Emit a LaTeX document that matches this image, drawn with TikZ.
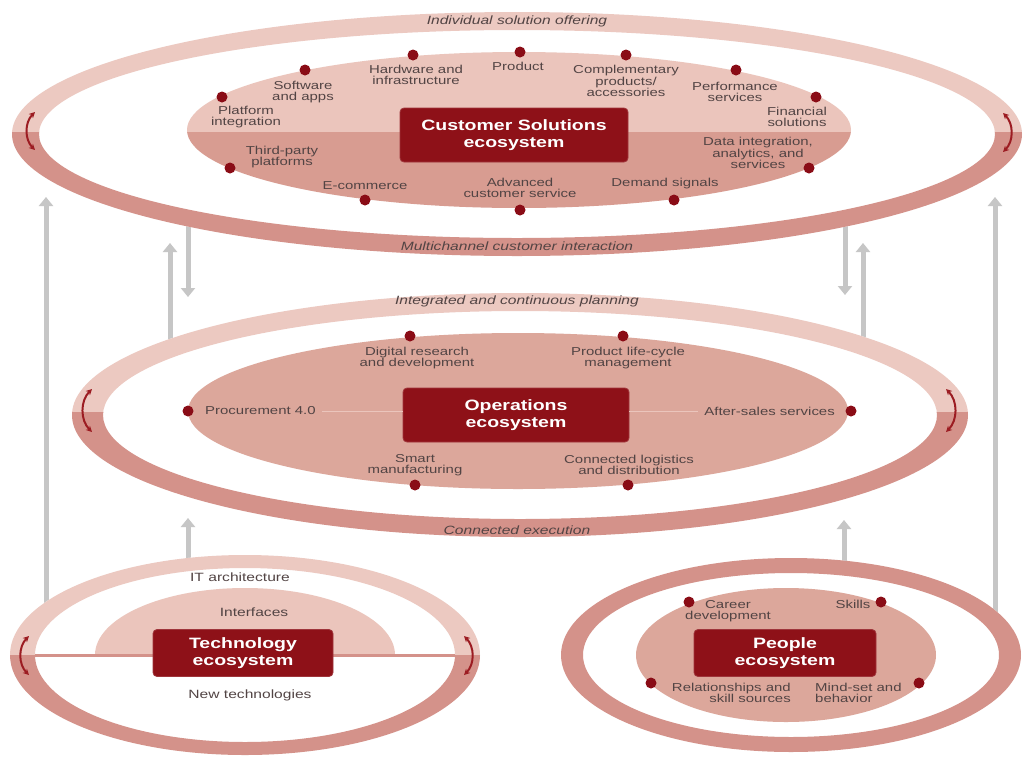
\documentclass[tikz,border=0pt]{standalone}
\usepackage{fontspec}
\setmainfont{Liberation Sans}[FakeStretch=1.3]
\usetikzlibrary{arrows.meta}
\definecolor{ringlight}{HTML}{ECC9C1}
\definecolor{ringdark}{HTML}{D4928A}
\definecolor{inlight}{HTML}{EBC5BC}
\definecolor{indark}{HTML}{D89C91}
\definecolor{inmid}{HTML}{DCA79B}
\definecolor{boxred}{HTML}{8E1118}
\definecolor{dotred}{HTML}{8A0C16}
\definecolor{txtc}{HTML}{524444}
\definecolor{arrgray}{HTML}{C6C6C6}
\definecolor{cycred}{HTML}{9C1C22}
\newcommand{\ecoring}[7]{%
  \fill[white] (#1,#2) ellipse [x radius=#3pt, y radius=#4pt];
  \begin{scope}
    \clip (#1-#3-5,#2-#4-5) rectangle (#1+#3+5,#7);
    \fill[ringlight,even odd rule] (#1,#2) ellipse [x radius=#3pt, y radius=#4pt]
      (#1,#2) ellipse [x radius=#5pt, y radius=#6pt];
  \end{scope}
  \begin{scope}
    \clip (#1-#3-5,#7) rectangle (#1+#3+5,#2+#4+5);
    \fill[ringdark,even odd rule] (#1,#2) ellipse [x radius=#3pt, y radius=#4pt]
      (#1,#2) ellipse [x radius=#5pt, y radius=#6pt];
  \end{scope}}
\begin{document}
\begin{tikzpicture}[x=1pt,y=-1pt,
  lbl/.style={font=\fontsize{11.5}{11.5}\selectfont, text=txtc, align=center, inner sep=0pt},
  ringlbl/.style={font=\fontsize{12}{12}\selectfont\itshape, text=txtc, inner sep=0pt},
  techlbl/.style={font=\fontsize{12}{12}\selectfont, text=txtc, inner sep=0pt},
  ecobox/.style={rounded corners=4pt, fill=boxred, draw=boxred!85!white, line width=0.8pt, text=white,
     font=\fontsize{15}{16.5}\selectfont\bfseries, align=center, inner sep=0pt},
  dotc/.style={circle, fill=dotred, minimum size=11pt, inner sep=0pt},
  flow/.style={draw=arrgray, line width=5pt, -{Triangle[width=14pt,length=9pt]}},
  cyc/.style={draw=cycred, line width=2pt, {Stealth[length=6pt,width=6pt]}-{Stealth[length=6pt,width=6pt]}}]
\useasboundingbox (0,0) rectangle (1023,764);
\fill[white] (0,0) rectangle (1023,764);

% ---------- gray flow arrows (behind ellipses)
\coordinate (l1s) at (46,625);  \coordinate (l1e) at (46,197);
\coordinate (r1s) at (995,630); \coordinate (r1e) at (995,197);
\coordinate (u1s) at (170,350); \coordinate (u1e) at (170,243);
\coordinate (d1s) at (188,215); \coordinate (d1e) at (188,297);
\coordinate (d2s) at (845,215); \coordinate (d2e) at (845,295);
\coordinate (u2s) at (863,350); \coordinate (u2e) at (863,243);
\coordinate (u3s) at (188,575); \coordinate (u3e) at (188,518);
\coordinate (u4s) at (844,575); \coordinate (u4e) at (844,520);
\draw[flow] (l1s) -- (l1e);
\draw[flow] (r1s) -- (r1e);
\draw[flow] (u1s) -- (u1e);
\draw[flow] (d1s) -- (d1e);
\draw[flow] (d2s) -- (d2e);
\draw[flow] (u2s) -- (u2e);
\draw[flow] (u3s) -- (u3e);
\draw[flow] (u4s) -- (u4e);

% ---------- Customer Solutions ecosystem
\ecoring{517}{134}{505}{122}{478}{104}{132}
\begin{scope}
  \clip (150,40) rectangle (900,132);
  \fill[inlight] (519,130) ellipse [x radius=332pt, y radius=78pt];
\end{scope}
\begin{scope}
  \clip (150,132) rectangle (900,220);
  \fill[indark] (519,130) ellipse [x radius=332pt, y radius=78pt];
\end{scope}
\node[ringlbl] (cs-top) at (517,21) {Individual solution offering};
\node[ringlbl] (cs-bot) at (517,246) {Multichannel customer interaction};
\node[ecobox, minimum width=228pt, minimum height=54pt] (csbox) at (514,135) {Customer Solutions\\ecosystem};
\node[dotc] (cd1) at (222,97) {};   \node[lbl] (ct1) at (246,117) {Platform\\integration};
\node[dotc] (cd2) at (305,70) {};   \node[lbl] (ct2) at (303,92) {Software\\and apps};
\node[dotc] (cd3) at (413,55) {};   \node[lbl] (ct3) at (416,75) {Hardware and\\infrastructure};
\node[dotc] (cd4) at (520,52) {};   \node[lbl] (ct4) at (518,66) {Product};
\node[dotc] (cd5) at (626,55) {};   \node[lbl] (ct5) at (626,81) {Complementary\\products/\\accessories};
\node[dotc] (cd6) at (736,70) {};   \node[lbl] (ct6) at (735,92) {Performance\\services};
\node[dotc] (cd7) at (816,97) {};   \node[lbl] (ct7) at (797,117) {Financial\\solutions};
\node[dotc] (cd8) at (809,168) {};  \node[lbl] (ct8) at (758,153) {Data integration,\\analytics, and\\services};
\node[dotc] (cd9) at (674,200) {};  \node[lbl] (ct9) at (665,184) {Demand signals};
\node[dotc] (cd10) at (520,210) {}; \node[lbl] (ct10) at (520,188) {Advanced\\customer service};
\node[dotc] (cd11) at (365,200) {}; \node[lbl] (ct11) at (365,186) {E-commerce};
\node[dotc] (cd12) at (230,168) {}; \node[lbl] (ct12) at (282,157) {Third-party\\platforms};
\draw[cyc] (35,112) to[bend right=45] (35,150);
\draw[cyc] (1003,113) to[bend left=45] (1003,152);

% ---------- Operations ecosystem
\ecoring{520}{415}{448}{122}{417}{104}{412}
\fill[inmid] (518,411) ellipse [x radius=330pt, y radius=78pt];
\node[ringlbl] (op-top) at (517,301) {Integrated and continuous planning};
\node[ringlbl] (op-bot) at (517,530) {Connected execution};
\node[ecobox, minimum width=226pt, minimum height=54pt] (opbox) at (516,415) {Operations\\ecosystem};
\node[dotc] (od1) at (188,411) {}; \node[lbl, anchor=west] (ot1) at (205,411) {Procurement 4.0};
\node[dotc] (od2) at (410,336) {}; \node[lbl] (ot2) at (417,358) {Digital research\\and development};
\node[dotc] (od3) at (623,336) {}; \node[lbl] (ot3) at (628,358) {Product life-cycle\\management};
\node[dotc] (od4) at (851,411) {}; \node[lbl, anchor=east] (ot4) at (835,411) {After-sales services};
\node[dotc] (od5) at (415,485) {}; \node[lbl] (ot5) at (415,465) {Smart\\manufacturing};
\node[dotc] (od6) at (628,485) {}; \node[lbl] (ot6) at (629,465) {Connected logistics\\and distribution};
\draw[inlight, line width=1pt] ([xshift=6pt]ot1.east) -- (opbox.west |- ot1.east);
\draw[inlight, line width=1pt] (opbox.east |- ot4.west) -- ([xshift=-6pt]ot4.west);
\draw[cyc] (92,389) to[bend right=45] (92,432);
\draw[cyc] (946,389) to[bend left=45] (946,432);

% ---------- Technology ecosystem
\ecoring{245}{655}{235}{100}{210}{87}{655}
\begin{scope}
  \clip (80,570) rectangle (410,655);
  \fill[inlight] (245,655) ellipse [x radius=150pt, y radius=67pt];
\end{scope}
\draw[ringdark, line width=3pt] (35,655) -- (455,655);
\node[techlbl] (tt1) at (240,577) {IT architecture};
\node[techlbl] (tt2) at (254,612) {Interfaces};
\node[techlbl] (tt3) at (250,695) {New technologies};
\node[ecobox, minimum width=180pt, minimum height=47pt] (tebox) at (243,653) {Technology\\ecosystem};
\draw[cyc] (29,636) to[bend right=45] (29,675);
\draw[cyc] (464,636) to[bend left=45] (464,675);

% ---------- People ecosystem
\fill[white] (791,655) ellipse [x radius=230pt, y radius=97pt];
\fill[ringdark, even odd rule] (791,655) ellipse [x radius=230pt, y radius=97pt]
   (791,655) ellipse [x radius=208pt, y radius=82pt];
\fill[inmid] (786,655) ellipse [x radius=150pt, y radius=67pt];
\node[ecobox, minimum width=182pt, minimum height=47pt] (pebox) at (785,653) {People\\ecosystem};
\node[dotc] (pd1) at (689,602) {}; \node[lbl] (pt1) at (728,611) {Career\\development};
\node[dotc] (pd2) at (881,602) {}; \node[lbl] (pt2) at (853,604) {Skills};
\node[dotc] (pd3) at (651,683) {}; \node[lbl, anchor=east, align=right] (pt3) at (791,693) {Relationships and\\skill sources};
\node[dotc] (pd4) at (919,683) {}; \node[lbl, anchor=west, align=left] (pt4) at (815,693) {Mind-set and\\behavior};
\end{tikzpicture}
\end{document}
